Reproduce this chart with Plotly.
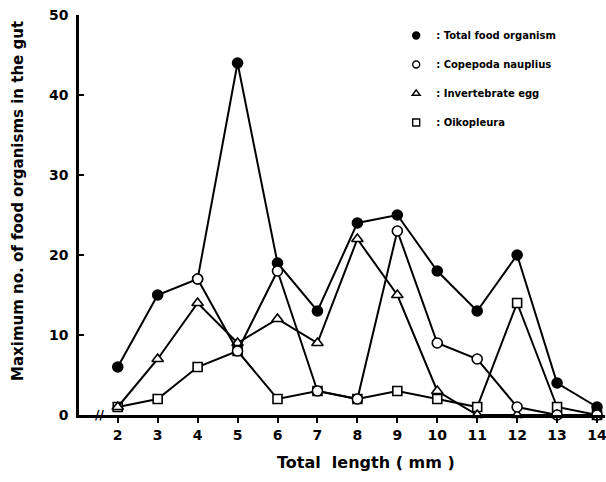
import plotly.graph_objects as go

lengths = [2, 3, 4, 5, 6, 7, 8, 9, 10, 11, 12, 13, 14]
total_food = [6, 15, 17, 44, 19, 13, 24, 25, 18, 13, 20, 4, 1]
copepoda = [None, None, 17, 8, 18, 3, 2, 23, 9, 7, 1, 0, 0]
invert_egg = [1, 7, 14, 9, 12, 9, 22, 15, 3, 0, 0, 0, 0]
oikopleura = [1, 2, 6, 8, 2, 3, 2, 3, 2, 1, 14, 1, 0]

y_ticks = [0, 10, 20, 30, 40, 50]
series_names = ["Total food organism", "Copepoda nauplius", "Invertebrate egg", "Oikopleura"]

FONT = "DejaVu Sans"
fig = go.Figure()

line = dict(color="black", width=2)

def add(y, symbol, fill, size):
    fig.add_trace(go.Scatter(
        x=lengths, y=y, mode="lines+markers", line=line, connectgaps=False,
        marker=dict(symbol=symbol, size=size, color=fill, line=dict(color="black", width=1.6)),
        showlegend=False, cliponaxis=False))

add(total_food, "circle", "black", 10)
add(oikopleura, "square", "white", 9)
add(invert_egg, "triangle-up", "white", 10)
add(copepoda, "circle", "white", 10)

legend_styles = [("circle", "black", 7), ("circle", "white", 7), ("triangle-up", "white", 7), ("square", "white", 7)]
for i, (name, (sym, fill, sz)) in enumerate(zip(series_names, legend_styles)):
    fig.add_trace(go.Scatter(
        x=[None], y=[None], mode="markers", name=": " + name, legendgroup=str(i),
        marker=dict(symbol=sym, size=sz, color=fill, line=dict(color="black", width=1.4)),
        showlegend=True))

fig.update_layout(
    width=606, height=482,
    margin=dict(l=79, r=1, t=15, b=67, autoexpand=False),
    paper_bgcolor="white", plot_bgcolor="white",
    font=dict(family=FONT, color="black", size=13, weight="bold"),
    showlegend=True,
    legend=dict(x=0.603, y=0.985, xanchor="left", yanchor="top",
                font=dict(family=FONT, size=10, weight="bold"),
                itemwidth=30, tracegroupgap=10, bgcolor="rgba(0,0,0,0)"),
    xaxis=dict(range=[1.03, 14.2], tickvals=lengths, ticks="outside", ticklen=5,
               tickwidth=2, tickcolor="black", showline=True, linecolor="black", linewidth=2.5,
               showgrid=False, zeroline=False, ticklabeloverflow="allow", automargin=False,
               tickfont=dict(size=14, family=FONT, weight="bold")),
    yaxis=dict(range=[0, 50], tickvals=y_ticks, ticks="inside", ticklen=5,
               tickwidth=2, tickcolor="black", showline=True, linecolor="black", linewidth=2.5,
               showgrid=False, zeroline=False, ticklabelstandoff=5, ticklabeloverflow="allow",
               automargin=False, tickfont=dict(size=14, family=FONT, weight="bold")),
    annotations=[
        dict(text="Maximum no. of food organisms in the gut", textangle=-90,
             xref="paper", yref="paper", x=-0.116, y=0.535, xanchor="center", yanchor="middle",
             showarrow=False, font=dict(size=15, family=FONT, weight="bold")),
        dict(text="Total  length ( mm )", xref="paper", yref="paper",
             x=0.545, y=-0.1175, xanchor="center", yanchor="middle",
             showarrow=False, font=dict(size=16, family=FONT, weight="bold")),
        dict(text="//", xref="x", yref="y", x=1.55, y=0, xanchor="center", yanchor="middle",
             showarrow=False, font=dict(size=12, family=FONT, weight="bold")),
    ],
)

fig.write_html("out.html", config={"displayModeBar": False},
               post_script="document.body.style.margin='0';")
